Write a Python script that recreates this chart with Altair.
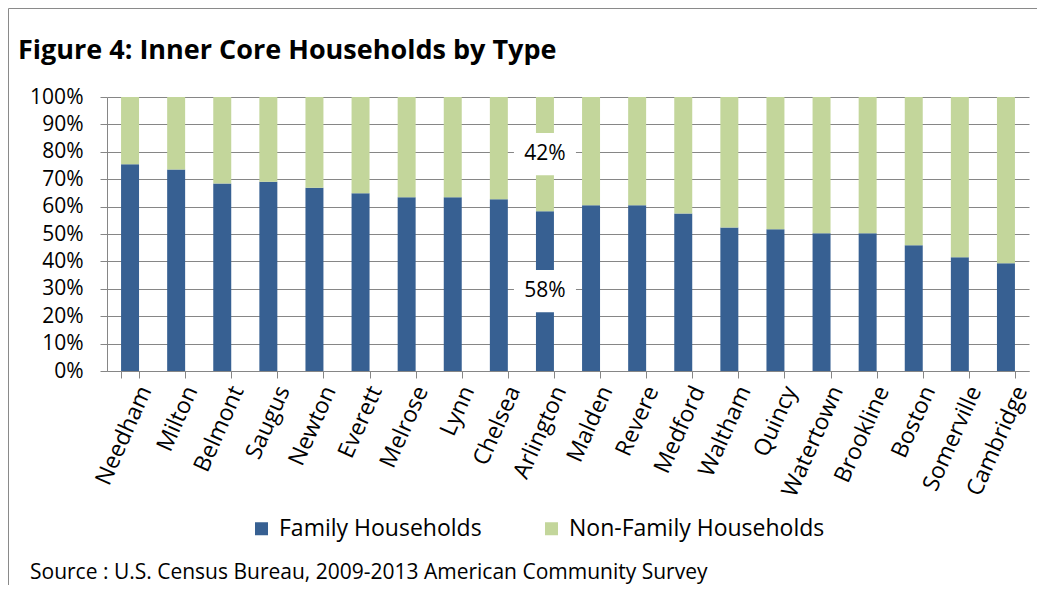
import altair as alt
import pandas as pd

cities = ["Needham", "Milton", "Belmont", "Saugus", "Newton", "Everett", "Melrose",
          "Lynn", "Chelsea", "Arlington", "Malden", "Revere", "Medford", "Waltham",
          "Quincy", "Watertown", "Brookline", "Boston", "Somerville", "Cambridge"]
family = [75.5, 73.5, 68.4, 69.1, 66.9, 64.9, 63.4, 63.4, 62.7, 58.3,
          60.5, 60.5, 57.5, 52.4, 51.7, 50.3, 50.3, 45.9, 41.5, 39.3]
nonfamily = [24.5, 26.5, 31.6, 30.9, 33.1, 35.1, 36.6, 36.6, 37.3, 41.7,
             39.5, 39.5, 42.5, 47.6, 48.3, 49.7, 49.7, 54.1, 58.5, 60.7]
series = ["Family Households", "Non-Family Households"]
colors = ["#376092", "#C3D69B"]
y_ticks = list(range(0, 101, 10))
title_text = "Figure 4: Inner Core Households by Type"
source_text = "Source : U.S. Census Bureau, 2009-2013 American Community Survey"
label_city = "Arlington"

rows = []
for c, f, n in zip(cities, family, nonfamily):
    rows.append({"city": c, "type": series[0], "value": f, "ord": 0})
    rows.append({"city": c, "type": series[1], "value": n, "ord": 1})
df = pd.DataFrame(rows)

i = cities.index(label_city)
lab = pd.DataFrame({
    "city": [label_city, label_city],
    "value": [family[i] / 2, family[i] + nonfamily[i] / 2],
    "text": [f"{round(family[i])}%", f"{round(nonfamily[i])}%"],
})

GRID = "#868686"
FONT = "Open Sans"

xscale = alt.Scale(paddingInner=0.61, paddingOuter=0.305)
xaxis = alt.Axis(title=None, labelAngle=-66, labelAlign="right",
                 labelBaseline="middle", tickBand="extent", tickSize=7,
                 labelPadding=9, labelOffset=15, labelFontSize=23,
                 labelFont=FONT, labelColor="#000000", domainColor=GRID,
                 tickColor=GRID, grid=False)
yscale = alt.Scale(domain=[0, 100], nice=False)
yaxis = alt.Axis(values=y_ticks, labelExpr="datum.value + '%'", title=None,
                 tickSize=7, labelPadding=17, labelFontSize=21, labelOverlap=False,
                 labelFont=FONT, labelColor="#000000", grid=True,
                 gridColor=GRID, domainColor=GRID, tickColor=GRID)


def xenc():
    return alt.X("city:N", sort=cities, title=None, scale=xscale, axis=xaxis)


def yenc(stack=None):
    if stack:
        return alt.Y("value:Q", stack=stack, title=None, scale=yscale, axis=yaxis)
    return alt.Y("value:Q", title=None, scale=yscale, axis=yaxis)


bars = alt.Chart(df).mark_bar().encode(
    x=xenc(),
    y=yenc("zero"),
    color=alt.Color("type:N", scale=alt.Scale(domain=series, range=colors),
                    legend=alt.Legend(title=None, orient="none", legendX=143,
                                      legendY=420, direction="horizontal",
                                      symbolType="square", symbolSize=169,
                                      symbolStrokeWidth=0, labelFontSize=23,
                                      labelFont=FONT, labelColor="#000000",
                                      labelLimit=0, labelOffset=6,
                                      columnPadding=58)),
    order=alt.Order("ord:Q"),
)

box = alt.Chart(lab).mark_point(
    shape="M-1,-0.68L1,-0.68L1,0.68L-1,0.68Z", size=3844, filled=True,
    fill="#ffffff", opacity=1, strokeWidth=0,
).encode(x=xenc(), y=yenc())

txt = alt.Chart(lab).mark_text(fontSize=21, font=FONT, color="#000000").encode(
    x=xenc(), y=yenc(), text="text:N")

title = alt.Chart(pd.DataFrame({"t": [title_text]})).mark_text(
    align="left", baseline="alphabetic", font=FONT, fontWeight="bold",
    fontSize=27, color="#000000",
).encode(x=alt.value(-89), y=alt.value(-38), text="t:N")

source = alt.Chart(pd.DataFrame({"t": [source_text]})).mark_text(
    align="left", baseline="alphabetic", font=FONT, fontSize=21, color="#000000",
).encode(x=alt.value(-77), y=alt.value(482), text="t:N")

border = alt.Chart(pd.DataFrame({"a": [0]})).mark_rect(
    fillOpacity=0, stroke="#8a8a8a", strokeWidth=1,
).encode(x=alt.value(-98.5), x2=alt.value(1200), y=alt.value(-88.5), y2=alt.value(800))

chart = alt.layer(border, bars, box, txt, title, source).properties(
    width=922, height=274,
    autosize=alt.AutoSizeParams(type="none"),
    padding={"left": 99, "top": 89, "right": 8, "bottom": 214},
).configure_view(stroke=None)

chart.save("out.html", embed_options={"renderer": "svg", "actions": False})
